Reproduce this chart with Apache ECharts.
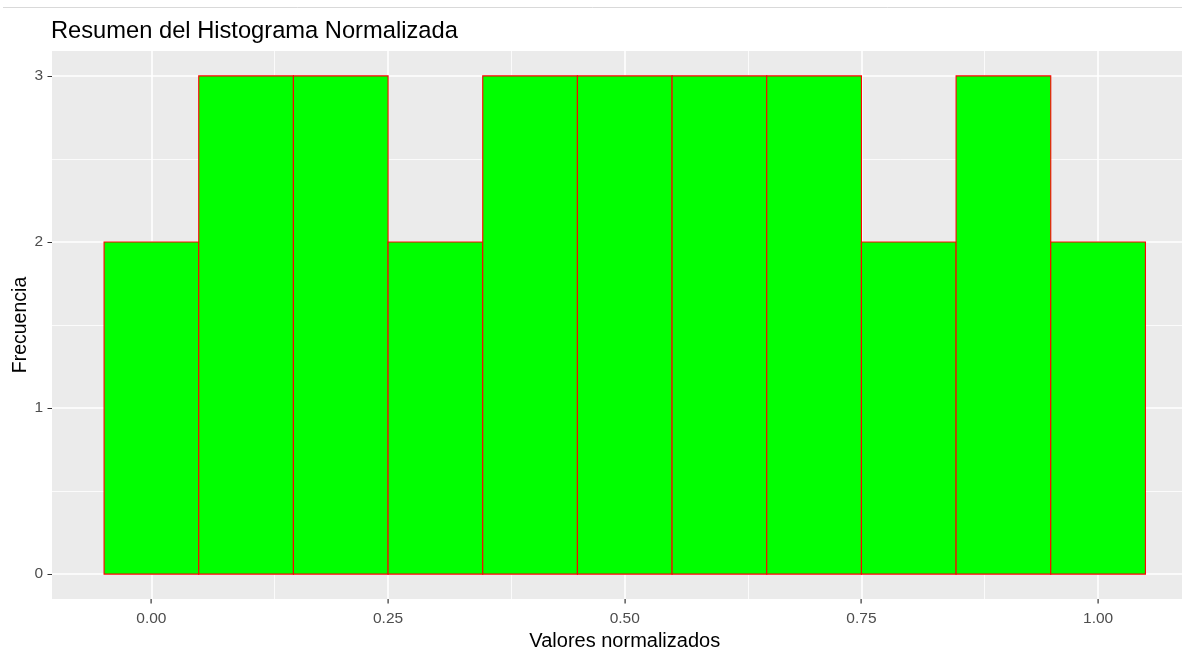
<!DOCTYPE html>
<html>
<head>
<meta charset="utf-8">
<script src="https://cdn.jsdelivr.net/npm/echarts@6/dist/echarts.min.js"></script>
<style>
  html, body { margin: 0; padding: 0; background: #ffffff; }
  #chart { width: 1182px; height: 649px; }
</style>
</head>
<body>
<div id="chart"></div>
<script>
// ---- Data ----
const binCenters = [0.0, 0.1, 0.2, 0.3, 0.4, 0.5, 0.6, 0.7, 0.8, 0.9, 1.0];
const counts     = [2, 3, 3, 2, 3, 3, 3, 3, 2, 3, 2];
const binWidth   = 0.1;
const xTicks      = [0, 0.25, 0.5, 0.75, 1.0];
const xMinorTicks = [0.125, 0.375, 0.625, 0.875];
const yTicks      = [0, 1, 2, 3];
const yMinorTicks = [0.5, 1.5, 2.5];
const titleText = 'Resumen del Histograma Normalizada';
const xTitle = 'Valores normalizados';
const yTitle = 'Frecuencia';

const X_MIN = -0.105, X_MAX = 1.105, Y_MIN = -0.15, Y_MAX = 3.15;
const font = 'Liberation Sans, Arial, sans-serif';
const chart = echarts.init(document.getElementById('chart'), null, { renderer: 'canvas' });

const gridLines = []
  .concat(xMinorTicks.map(v => ({ xAxis: v, lineStyle: { color: '#ffffff', width: 0.8, type: 'solid' } })))
  .concat(yMinorTicks.map(v => ({ yAxis: v, lineStyle: { color: '#ffffff', width: 0.8, type: 'solid' } })))
  .concat(xTicks.map(v => ({ xAxis: v, lineStyle: { color: '#ffffff', width: 1.6, type: 'solid' } })))
  .concat(yTicks.map(v => ({ yAxis: v, lineStyle: { color: '#ffffff', width: 1.6, type: 'solid' } })));

const option = {
  animation: false,
  backgroundColor: '#ffffff',
  title: {
    text: titleText,
    left: 51,
    top: 19,
    padding: 0,
    textStyle: { fontFamily: font, fontSize: 23.7, fontWeight: 'normal', color: '#000000' }
  },
  graphic: [{
    id: 'topRule',
    type: 'line',
    shape: { x1: 3, y1: 7.5, x2: 1182, y2: 7.5 },
    style: { stroke: '#d9d9d9', lineWidth: 1 },
    silent: true
  }],
  grid: {
    left: 52, right: -15.5, top: 51, bottom: 50,
    outerBoundsMode: 'none',
    containLabel: false,
    show: true, backgroundColor: '#EBEBEB', borderWidth: 0
  },
  xAxis: {
    type: 'value',
    min: X_MIN, max: X_MAX,
    axisLine: { show: false },
    splitLine: { show: false },
    axisTick: { show: false },
    axisLabel: {
      customValues: xTicks,
      formatter: v => v.toFixed(2),
      color: '#4D4D4D', fontFamily: font, fontSize: 15.5, margin: 12
    },
    name: xTitle,
    nameLocation: 'middle',
    nameGap: 28,
    nameTextStyle: { fontFamily: font, fontSize: 20, color: '#000000' }
  },
  yAxis: {
    type: 'value',
    min: Y_MIN, max: Y_MAX,
    axisLine: { show: false },
    splitLine: { show: false },
    axisTick: { show: false },
    axisLabel: {
      customValues: yTicks,
      formatter: v => String(v),
      color: '#4D4D4D', fontFamily: font, fontSize: 15.5, margin: 9
    },
    name: yTitle,
    nameLocation: 'middle',
    nameRotate: 90,
    nameGap: 21,
    nameMoveOverlap: false,
    nameTextStyle: { fontFamily: font, fontSize: 19.5, color: '#000000' }
  },
  series: [
    {
      type: 'line',
      data: [],
      z: 1,
      silent: true,
      markLine: {
        silent: true,
        symbol: 'none',
        label: { show: false },
        animation: false,
        data: gridLines
      }
    },
    {
      type: 'custom',
      z: 5,
      silent: true,
      data: binCenters.map((c, i) => [c, counts[i]]),
      renderItem: function (params, api) {
        const x = api.value(0), c = api.value(1);
        const p0 = api.coord([x - binWidth / 2, c]);
        const p1 = api.coord([x + binWidth / 2, 0]);
        return {
          type: 'rect',
          shape: { x: p0[0], y: p0[1], width: p1[0] - p0[0], height: p1[1] - p0[1] },
          style: { fill: '#00FF00', stroke: '#FF0000', lineWidth: 1.1 }
        };
      }
    },
    {
      // y-axis tick marks, drawn through the axis scales
      type: 'custom',
      z: 6,
      silent: true,
      clip: false,
      data: yTicks.map(v => [X_MIN, v]),
      renderItem: function (params, api) {
        const p = api.coord([api.value(0), api.value(1)]);
        return { type: 'rect', shape: { x: p[0] - 4.5, y: Math.round(p[1]), width: 4.5, height: 1 },
                 style: { fill: '#333333' } };
      }
    }
  ]
};
chart.setOption(option);

// x-axis tick marks: positions taken from the library's own scale
const xTickGraphics = xTicks.map((v, i) => {
  const p = chart.convertToPixel({ gridIndex: 0 }, [v, Y_MIN]);
  return {
    id: 'xtick' + i,
    type: 'rect',
    silent: true,
    z: 100,
    shape: { x: Math.round(p[0]) - 0.5, y: Math.round(p[1]), width: 1.2, height: 4.5 },
    style: { fill: '#333333' }
  };
});
chart.setOption({ graphic: xTickGraphics });
</script>
</body>
</html>
